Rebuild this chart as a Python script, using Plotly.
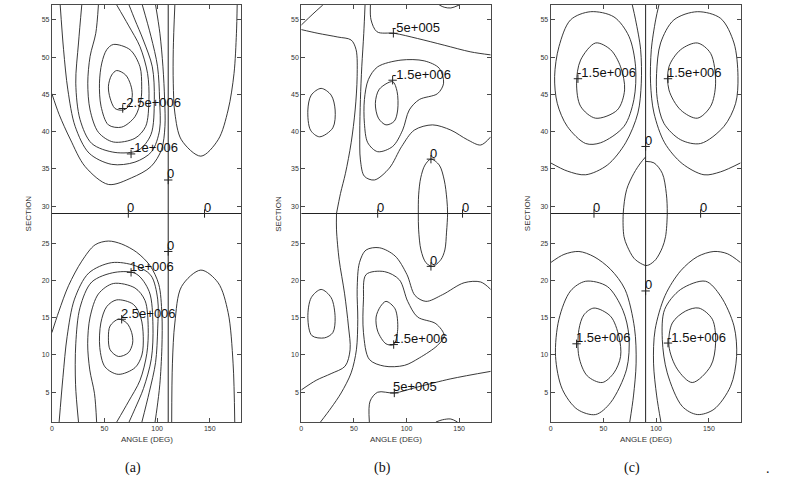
import plotly.graph_objects as go

W, H = 787, 492

# ---------------------------------------------------------------- panel (a)
# contour lines, (angle, section) pairs
a_top_loop1 = [(61.6, 48.2), (70.1, 47.6), (74.8, 46.3), (76.4, 44.9), (74.2, 43.6), (67.9, 42.9),
               (60.0, 43.1), (55.3, 44.5), (53.7, 46.1), (56.8, 47.6), (61.6, 48.2)]
a_top_loop2 = [(58.4, 51.7), (74.2, 51.0), (83.7, 48.7), (85.3, 46.1), (84.6, 44.3), (78.9, 42.0),
               (66.3, 40.6), (53.7, 40.9), (46.7, 43.4), (45.2, 46.5), (47.4, 49.2), (52.1, 51.0), (58.4, 51.7)]
a_top_u3 = [(44.2, 57.0), (41.7, 53.2), (36.3, 50.1), (34.1, 46.5), (36.3, 42.9), (44.2, 39.9), (58.4, 38.6),
            (78.9, 39.1), (89.1, 40.7), (92.2, 44.3), (90.9, 47.8), (83.7, 51.4), (72.6, 54.3), (61.6, 57.0)]
a_top_u2 = [(28.4, 57.0), (25.3, 51.9), (22.7, 46.5), (26.8, 41.6), (37.9, 38.4), (60.0, 37.2), (82.1, 37.5),
            (94.1, 39.6), (97.3, 44.3), (95.4, 48.7), (86.8, 52.3), (78.9, 55.0), (73.3, 57.0)]
a_top_u1 = [(7.9, 57.0), (11.1, 51.0), (15.2, 45.6), (22.1, 40.7), (35.4, 37.1), (56.8, 35.6), (78.9, 35.9),
            (94.7, 37.3), (102.3, 40.2), (102.3, 44.3), (100.4, 48.7), (94.1, 52.8), (85.9, 57.0)]
a_top_outer = [(0, 45.1), (6.9, 42.3), (17.4, 39.0), (31.6, 35.3), (53.7, 32.9), (75.8, 33.8), (94.1, 35.3),
               (104.2, 37.6), (107.4, 40.7), (107.1, 44.3), (105.5, 48.7), (102.6, 53.2), (98.5, 57.0)]
a_top_right = [(116.8, 57.0), (115.3, 51.0), (115.3, 46.5), (116.8, 42.5), (123.0, 38.9), (141.5, 36.7),
               (157.9, 38.9), (167.4, 42.9), (173.0, 47.8), (175.3, 53.2), (176.0, 57.0)]
a_bot_loop1 = [(63.2, 14.8), (71.1, 14.3), (75.8, 13.0), (76.7, 11.6), (72.6, 10.3), (63.2, 9.8),
               (55.3, 10.7), (53.7, 12.3), (55.3, 13.9), (63.2, 14.8)]
a_bot_loop2 = [(61.6, 17.4), (77.4, 16.8), (84.5, 15.0), (86.8, 12.5), (85.5, 10.0), (79.0, 8.3), (63.0, 7.4),
               (50.5, 8.4), (45.5, 11.0), (46.5, 14.3), (52.1, 16.5), (61.6, 17.4)]
a_bot_u3 = [(42.5, 1.0), (40.5, 4.8), (36.0, 8.0), (34.0, 11.5), (36.3, 15.1), (44.2, 18.2), (58.4, 19.6),
            (78.9, 19.0), (88.5, 17.3), (91.5, 13.7), (90.2, 10.2), (83.7, 6.6), (72.6, 3.7), (61.6, 1.0)]
a_bot_u2 = [(25.3, 1.0), (22.5, 6.0), (22.7, 11.5), (26.8, 16.4), (37.9, 19.8), (60.0, 21.1), (80.0, 20.9),
            (92.5, 18.5), (96.0, 14.0), (94.5, 9.5), (87.0, 5.5), (79.0, 2.8), (73.3, 1.0)]
a_bot_u1 = [(6.9, 1.0), (10.5, 7.0), (14.5, 12.5), (21.5, 17.5), (35.0, 21.0), (56.8, 22.4), (78.9, 22.0),
            (94.0, 20.7), (100.5, 17.5), (100.5, 13.5), (98.5, 9.0), (92.5, 5.0), (85.5, 1.0)]
a_bot_outer = [(0, 13.0), (6.5, 15.8), (15.8, 19.3), (28.4, 22.6), (41.1, 24.8), (53.7, 25.3), (66.3, 24.9),
               (80.5, 23.8), (93.2, 22.0), (101.5, 19.5), (104.5, 15.5), (104.5, 11.0), (102.5, 6.0),
               (100.0, 3.0), (98.0, 1.0)]
a_bot_right = [(113.8, 1.0), (114.5, 8.9), (116.8, 14.3), (123.2, 19.2), (141.5, 21.4), (157.9, 19.7),
               (167.4, 15.7), (172.1, 8.9), (173.7, 1.0)]
a_zero_v = [(110.5, 1), (110.5, 57)]
a_labels = [("-2.5e+006", 67.3, 43.1), ("-1e+006", 75.2, 37.0), ("0", 110.5, 33.5), ("0", 72.6, 29.0),
            ("0", 145.0, 29.0), ("0", 110.5, 23.9), ("1e+006", 75.2, 21.1), ("2.5e+006", 66.3, 14.8)]

# ---------------------------------------------------------------- panel (b)
b_corner = [(20.5, 57.0), (11.1, 55.8), (0, 54.3)]
b_zero_top = [(0, 53.7), (15.8, 53.2), (34.7, 52.7), (47.4, 52.3), (52.1, 51.0), (53.1, 47.4), (51.2, 42.9),
              (47.4, 38.5), (42.0, 34.4), (37.3, 31.7), (33.5, 29.0)]
b_neg_low = [(60.6, 57.0), (59.4, 53.2), (57.5, 48.7), (56.2, 44.3), (55.6, 39.8), (56.2, 36.2), (60.0, 34.0),
             (69.5, 33.5), (83.7, 35.1), (95.4, 38.0), (107.4, 40.2), (124.7, 40.9), (142.1, 40.2),
             (157.9, 38.9), (170.5, 38.2), (180, 39.3)]
b_neg_up = [(65.7, 57.0), (66.3, 55.0), (72.0, 53.4), (88.4, 53.2), (110.5, 52.5), (135.8, 51.6),
            (161.1, 50.7), (180, 50.3)]
b_top_loop1 = [(94.7, 49.6), (116.8, 49.5), (131.1, 48.5), (135.2, 46.5), (129.5, 45.1), (112.1, 44.3),
               (102.6, 42.9), (96.3, 40.2), (86.8, 38.0), (72.6, 37.3), (63.2, 38.5), (60.0, 41.1),
               (60.0, 44.3), (63.8, 47.0), (72.6, 48.7), (94.7, 49.6)]
b_top_loop2 = [(86.8, 46.7), (91.0, 45.4), (91.6, 42.9), (88.4, 41.4), (80.5, 40.9), (73.3, 41.8),
               (70.4, 43.8), (74.2, 45.7), (86.8, 46.7)]
b_left_top = [(18.9, 45.8), (28.4, 44.9), (32.2, 42.9), (30.0, 40.5), (17.4, 39.3), (8.8, 40.2), (6.3, 42.9),
              (9.5, 44.9), (18.9, 45.8)]
b_arc_top = [(131.1, 57.0), (135.8, 56.7), (142.1, 56.6), (150.0, 57.0)]
b_mid_loop = [(123.2, 36.3), (131.1, 35.5), (135.8, 33.5), (138.3, 30.9), (139.0, 29.0), (138.0, 26.5),
              (136.4, 24.1), (132.6, 22.8), (124.7, 21.9), (118.4, 22.4), (113.7, 24.1), (111.5, 26.8),
              (111.2, 29.0), (111.5, 31.5), (113.5, 33.8), (117.5, 35.5), (123.2, 36.3)]
b_zero_bot = [(33.5, 29.0), (33.5, 26.8), (36.0, 22.8), (41.1, 18.3), (44.8, 13.9), (46.4, 10.7),
              (41.7, 8.5), (28.4, 7.5), (14.2, 6.6), (0, 5.3)]
b_pos_up = [(180, 18.8), (170.5, 19.8), (154.7, 19.7), (134.2, 18.1), (118.4, 17.2), (108.0, 18.0),
            (100.4, 20.8), (89.1, 23.3), (74.2, 24.4), (61.6, 24.1), (55.3, 22.4), (53.1, 18.8), (53.7, 14.8),
            (52.4, 10.7), (47.4, 7.6), (37.9, 4.9), (28.4, 2.9), (18.3, 1.0)]
b_pos_low = [(64.7, 1.0), (65.4, 3.8), (72.6, 5.0), (88.4, 4.9), (110.5, 5.7), (142.1, 6.8), (180, 7.8)]
b_bot_loop1 = [(61.6, 20.8), (78.9, 21.2), (93.2, 20.1), (101.1, 17.2), (110.5, 15.1), (127.9, 14.2),
               (135.8, 12.6), (129.5, 11.3), (112.1, 9.6), (97.9, 8.6), (78.9, 8.5), (64.7, 9.4), (59.1, 13.0),
               (59.1, 17.4), (61.6, 20.8)]
b_bot_loop2 = [(80.5, 17.2), (89.1, 16.2), (91.6, 13.4), (87.8, 11.4), (80.5, 11.5), (72.6, 13.2),
               (71.1, 15.1), (75.2, 16.5), (80.5, 17.2)]
b_left_bot = [(18.9, 18.8), (28.4, 17.7), (32.2, 15.0), (30.0, 13.0), (22.1, 12.3), (10.1, 12.6), (6.3, 15.0),
              (9.5, 17.7), (18.9, 18.8)]
b_arc_bot = [(127.9, 1.0), (134.2, 1.3), (142.1, 1.4), (148.4, 1.0)]
b_labels = [("-5e+005", 87.5, 53.2), ("-1.5e+006", 86.8, 46.9), ("0", 123.2, 36.3), ("0", 72.6, 29.0),
            ("0", 153.2, 29.0), ("0", 123.2, 21.9), ("1.5e+006", 87.8, 11.4), ("5e+005", 88.4, 4.9)]

# ---------------------------------------------------------------- panel (c)
c_tl_outer = [(37.9, 56.1), (60.0, 55.4), (74.2, 52.8), (80.5, 48.7), (78.9, 44.3), (69.5, 40.7), (47.4, 38.5),
              (33.2, 38.4), (15.8, 40.7), (6.3, 43.8), (3.8, 47.4), (7.9, 51.4), (18.9, 55.0), (37.9, 56.1)]
c_tl_inner = [(42.6, 51.9), (56.8, 51.0), (66.3, 48.7), (70.1, 45.6), (63.2, 42.9), (42.6, 41.8), (28.4, 43.4),
              (24.6, 46.5), (28.4, 49.6), (42.6, 51.9)]
c_tr_outer = [(139.0, 56.1), (161.1, 55.2), (173.7, 51.9), (177.5, 47.4), (175.3, 43.8), (164.2, 40.7),
              (142.1, 38.4), (123.2, 38.9), (107.4, 41.1), (101.1, 44.3), (100.4, 47.8), (104.2, 51.9),
              (116.8, 55.0), (139.0, 56.1)]
c_tr_inner = [(139.0, 51.9), (151.6, 50.5), (156.3, 46.5), (151.6, 43.4), (139.0, 41.8), (123.2, 42.9),
              (112.1, 45.6), (112.1, 48.7), (123.2, 51.0), (139.0, 51.9)]
c_top_left = [(0, 35.8), (15.8, 34.7), (33.2, 34.2), (53.7, 35.5), (71.1, 38.5), (82.7, 42.5), (85.9, 46.5),
              (85.3, 51.0), (80.5, 55.0), (77.4, 57.0)]
c_top_right = [(180, 35.8), (161.1, 34.6), (145.3, 34.2), (124.7, 35.7), (108.0, 38.5), (97.9, 42.5),
               (94.7, 46.5), (95.4, 51.0), (99.5, 55.0), (102.6, 57.0)]
c_mid_left = [(90.0, 36.6), (85.3, 35.8), (78.9, 34.4), (72.0, 32.2), (68.8, 29.0), (69.5, 25.9), (72.6, 24.6),
              (78.9, 23.0), (85.3, 22.3), (90.0, 22.0)]
c_mid_right = [(90.0, 36.0), (97.9, 35.8), (105.8, 34.4), (109.6, 31.7), (110.5, 29.0), (108.9, 25.9),
               (105.8, 24.4), (99.5, 22.8), (93.2, 22.1), (90.0, 22.0)]
c_bl_outer = [(0, 22.4), (12.6, 23.5), (26.8, 23.9), (41.1, 23.2), (56.8, 21.5), (70.5, 18.8), (79.5, 13.6),
              (81.0, 8.9), (78.5, 4.5), (75.0, 1.0)]
c_br_outer = [(180, 22.4), (167.4, 23.6), (154.7, 23.9), (139.0, 23.2), (123.2, 21.3), (108.5, 18.0),
              (99.0, 13.4), (97.5, 8.9), (100.5, 4.5), (104.5, 1.0)]
c_bl_mid = [(33.2, 19.9), (53.7, 19.2), (68.5, 16.0), (74.2, 12.5), (72.0, 8.1), (56.8, 3.6), (42.6, 2.0),
            (25.3, 2.7), (11.1, 5.4), (4.7, 9.8), (7.9, 14.8), (18.9, 18.6), (33.2, 19.9)]
c_bl_inner = [(41.1, 16.3), (56.8, 15.2), (64.7, 12.5), (66.3, 9.8), (60.0, 7.6), (48.9, 6.3), (34.7, 7.2),
              (26.8, 9.8), (26.8, 13.4), (31.6, 15.4), (41.1, 16.3)]
c_br_mid = [(146.8, 19.9), (161.1, 17.9), (173.7, 13.9), (176.2, 9.8), (170.5, 5.8), (154.7, 2.7), (139.0, 2.0),
            (124.7, 3.1), (110.5, 7.6), (105.8, 12.1), (108.0, 16.1), (123.2, 18.8), (146.8, 19.9)]
c_br_inner = [(140.5, 16.3), (153.2, 14.8), (156.3, 11.6), (151.6, 8.5), (134.2, 6.3), (120.0, 8.1),
              (112.1, 11.2), (115.3, 14.3), (127.9, 15.9), (140.5, 16.3)]
c_zero_v = [(90.0, 1), (90.0, 57)]
c_labels = [("-1.5e+006", 25.9, 47.1), ("1.5e+006", 111.2, 47.1), ("0", 90.0, 38.0), ("0", 41.1, 29.0),
            ("0", 142.1, 29.0), ("0", 90.0, 18.6), ("1.5e+006", 24.6, 11.5), ("-1.5e+006", 111.2, 11.6)]

zero_h = [(0, 29), (180, 29)]

panels = [
    ([a_top_loop1, a_top_loop2, a_top_u3, a_top_u2, a_top_u1, a_top_outer, a_top_right,
      a_bot_loop1, a_bot_loop2, a_bot_u3, a_bot_u2, a_bot_u1, a_bot_outer, a_bot_right],
     [a_zero_v, zero_h], a_labels, "(a)"),
    ([b_corner, b_zero_top, b_neg_low, b_neg_up, b_top_loop1, b_top_loop2, b_left_top, b_arc_top, b_mid_loop,
      b_zero_bot, b_pos_up, b_pos_low, b_bot_loop1, b_bot_loop2, b_left_bot, b_arc_bot],
     [zero_h], b_labels, "(b)"),
    ([c_tl_outer, c_tl_inner, c_tr_outer, c_tr_inner, c_top_left, c_top_right, c_mid_left, c_mid_right,
      c_bl_outer, c_br_outer, c_bl_mid, c_bl_inner, c_br_mid, c_br_inner],
     [c_zero_v, zero_h], c_labels, "(c)"),
]

# pixel frame of each plot area
X_PIX = [(50, 240), (300, 490), (550, 740.5)]
TOP, BOTTOM = 5, 422
LINE = "#222222"
AXIS = "#4a4a4a"
SANS = "Liberation Sans, Arial, sans-serif"
GREY_TXT = dict(family=SANS, size=8, color="#333333")

fig = go.Figure()
annotations = []

for i, (curves, straight, labels, caption) in enumerate(panels):
    n = "" if i == 0 else str(i + 1)
    xr, yr = "x" + n, "y" + n
    for c in curves:
        fig.add_trace(go.Scatter(
            x=[p[0] for p in c], y=[p[1] for p in c], xaxis=xr, yaxis=yr,
            mode="lines", line=dict(color=LINE, width=0.9, shape="spline", smoothing=0.9),
            hoverinfo="skip", showlegend=False))
    for c in straight:
        fig.add_trace(go.Scatter(
            x=[p[0] for p in c], y=[p[1] for p in c], xaxis=xr, yaxis=yr,
            mode="lines", line=dict(color=LINE, width=1),
            hoverinfo="skip", showlegend=False))
    # contour label markers
    fig.add_trace(go.Scatter(
        x=[l[1] for l in labels], y=[l[2] for l in labels], xaxis=xr, yaxis=yr,
        mode="markers", marker=dict(symbol="cross-thin", size=6, line=dict(color=LINE, width=1)),
        hoverinfo="skip", showlegend=False))
    for text, lx, ly in labels:
        annotations.append(dict(text=text, x=lx, y=ly, xref=xr, yref=yr, xanchor="left", yanchor="middle",
                                yshift=6, xshift=-2, showarrow=False, borderpad=0,
                                font=dict(family=SANS, size=13, color="#111111")))

    x0, x1 = X_PIX[i]
    ax = dict(domain=[x0 / W, x1 / W], range=[0, 180], anchor=yr, tickvals=[0, 50, 100, 150],
              showline=True, mirror="ticks", linecolor=AXIS, linewidth=1, ticks="inside", ticklen=4,
              tickcolor=AXIS, showgrid=False, zeroline=False,
              tickfont=dict(family=SANS, size=7, color="#333333"))
    ay = dict(domain=[1 - BOTTOM / H, 1 - TOP / H], range=[1, 57], anchor=xr,
              tickvals=[5, 10, 15, 20, 25, 30, 35, 40, 45, 50, 55],
              showline=True, mirror="ticks", linecolor=AXIS, linewidth=1, ticks="inside", ticklen=4,
              tickcolor=AXIS, showgrid=False, zeroline=False,
              tickfont=dict(family=SANS, size=7, color="#333333"))
    fig.layout["xaxis" + n] = ax
    fig.layout["yaxis" + n] = ay

    cx = (x0 + x1) / 2
    annotations.append(dict(text="ANGLE (DEG)", x=cx / W, y=1 - 439 / H, xref="paper", yref="paper",
                            xanchor="center", yanchor="middle", showarrow=False, font=GREY_TXT))
    annotations.append(dict(text="SECTION", x=(x0 - 23) / W, y=1 - (TOP + BOTTOM) / 2 / H, xref="paper",
                            yref="paper", textangle=-90, xanchor="center", yanchor="middle",
                            showarrow=False, font=GREY_TXT))
    annotations.append(dict(text=caption, x=(cx - 14) / W, y=1 - 468 / H, xref="paper", yref="paper",
                            xanchor="center", yanchor="middle", showarrow=False,
                            font=dict(family="Liberation Serif, Times New Roman, serif", size=14,
                                      color="#111111")))

annotations.append(dict(text=".", x=768 / W, y=1 - 468 / H, xref="paper", yref="paper", xanchor="center",
                        yanchor="middle", showarrow=False,
                        font=dict(family="Liberation Serif, serif", size=14, color="#111111")))

fig.update_layout(width=W, height=H, margin=dict(l=0, r=0, t=0, b=0), autosize=False,
                  paper_bgcolor="white", plot_bgcolor="white", annotations=annotations)

# the page body has a default margin; drop it so the figure sits at the window corner
fig.write_html("out.html", config={"displayModeBar": False},
               post_script="document.body.style.margin='0px';")
